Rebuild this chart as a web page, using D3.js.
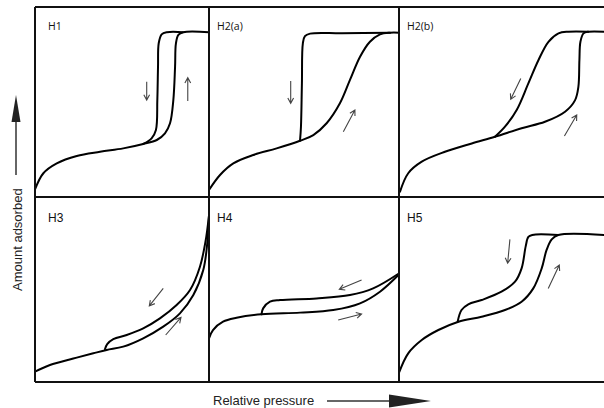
<!DOCTYPE html>
<html>
<head>
<meta charset="utf-8">
<script src="https://cdn.jsdelivr.net/npm/d3@7"></script>
<style>
  body { margin: 0; background: #fff; }
  svg { display: block; }
</style>
</head>
<body>
<div id="chart"></div>
<script>
// hysteresis loop types, relative pressure (0-1) vs amount adsorbed (0-1)
var labels = ['H1', 'H2(a)', 'H2(b)', 'H3', 'H4', 'H5'];

var h1Ads = [[0,0.04],[0.048,0.125],[0.125,0.177],[0.24,0.216],[0.374,0.238],[0.507,0.256],[0.622,0.279],[0.70,0.30],[0.747,0.335],[0.776,0.388],[0.795,0.51],[0.805,0.686],[0.81,0.809],[0.824,0.853],[0.852,0.867],[1,0.867]];
var h1Des = [[0.622,0.279],[0.67,0.309],[0.695,0.353],[0.703,0.51],[0.707,0.686],[0.711,0.809],[0.728,0.856],[0.757,0.867],[0.85,0.867]];

var h2aAds = [[0,0.037],[0.058,0.116],[0.128,0.177],[0.233,0.221],[0.356,0.256],[0.479,0.296],[0.549,0.326],[0.619,0.388],[0.689,0.493],[0.742,0.616],[0.795,0.738],[0.847,0.817],[0.9,0.856],[0.953,0.865],[1,0.865]];
var h2aDes = [[0.479,0.296],[0.484,0.37],[0.489,0.598],[0.494,0.809],[0.505,0.847],[0.532,0.86],[0.7,0.862],[0.953,0.865]];

var h2bAds = [[0.005,0.028],[0.045,0.125],[0.111,0.186],[0.224,0.238],[0.355,0.282],[0.468,0.317],[0.598,0.362],[0.712,0.396],[0.81,0.449],[0.859,0.51],[0.875,0.58],[0.88,0.72],[0.885,0.817],[0.9,0.861],[0.924,0.87],[1,0.87]];
var h2bDes = [[0.468,0.317],[0.517,0.37],[0.574,0.458],[0.631,0.598],[0.68,0.72],[0.729,0.817],[0.778,0.861],[0.826,0.87],[0.924,0.87]];

var h3Ads = [[0,0.056],[0.086,0.092],[0.22,0.127],[0.335,0.155],[0.412,0.173],[0.507,0.191],[0.622,0.236],[0.737,0.299],[0.833,0.371],[0.91,0.47],[0.967,0.605],[0.99,0.75],[1,0.9]];
var h3Des = [[0.402,0.177],[0.415,0.205],[0.45,0.232],[0.527,0.254],[0.622,0.29],[0.718,0.344],[0.814,0.416],[0.891,0.497],[0.948,0.623],[0.98,0.76],[1,0.9]];

var h4Ads = [[0,0.236],[0.021,0.281],[0.074,0.326],[0.145,0.347],[0.276,0.366],[0.479,0.375],[0.654,0.389],[0.795,0.425],[0.9,0.488],[0.997,0.578]];
var h4Des = [[0.276,0.366],[0.285,0.398],[0.321,0.434],[0.374,0.443],[0.566,0.452],[0.742,0.47],[0.864,0.506],[0.997,0.585]];

var h5Ads = [[0,0.05],[0.045,0.155],[0.111,0.227],[0.192,0.281],[0.29,0.326],[0.403,0.353],[0.517,0.389],[0.598,0.434],[0.655,0.506],[0.696,0.614],[0.72,0.714],[0.745,0.771],[0.777,0.795],[1,0.795]];
var h5Des = [[0.286,0.326],[0.305,0.389],[0.338,0.42],[0.403,0.443],[0.5,0.488],[0.566,0.542],[0.598,0.614],[0.618,0.733],[0.631,0.784],[0.65,0.795],[0.777,0.795]];

var curves = [[h1Ads, h1Des], [h2aAds, h2aDes], [h2bAds, h2bDes], [h3Ads, h3Des], [h4Ads, h4Des], [h5Ads, h5Des]];

// direction arrows [x1, y1, x2, y2]
var arrows = [
  [[0.642,0.606,0.642,0.51],[0.878,0.505,0.878,0.628]],
  [[0.43,0.61,0.43,0.493],[0.707,0.344,0.768,0.458]],
  [[0.594,0.624,0.545,0.514],[0.807,0.321,0.867,0.432]],
  [[0.737,0.506,0.657,0.411],[0.751,0.254,0.839,0.349]],
  [[0.803,0.551,0.686,0.501],[0.68,0.335,0.803,0.368]],
  [[0.541,0.771,0.53,0.642],[0.728,0.506,0.782,0.632]]
];

var width = 604, height = 408,
    cols = [[35, 209], [209, 399], [399, 604]],
    rows = [[7, 197], [197, 382]];

var svg = d3.select('#chart').append('svg')
    .attr('width', width)
    .attr('height', height);

var line = d3.line().curve(d3.curveCatmullRom.alpha(0.5));

labels.forEach(function(lab, i){
  var c = cols[i % 3], r = rows[Math.floor(i / 3)];
  var x = d3.scaleLinear().domain([0, 1]).range(c),
      y = d3.scaleLinear().domain([0, 1]).range([r[1], r[0]]);
  var g = svg.append('g');

  curves[i].forEach(function(pts){
    g.append('path')
      .attr('d', line.x(function(d){ return x(d[0]); }).y(function(d){ return y(d[1]); })(pts))
      .attr('fill', 'none')
      .attr('stroke', '#000')
      .attr('stroke-width', 2)
      .attr('stroke-linecap', 'round');
  });

  arrows[i].forEach(function(a){
    var x1 = x(a[0]), y1 = y(a[1]), x2 = x(a[2]), y2 = y(a[3]);
    var ang = Math.atan2(y2 - y1, x2 - x1), len = 6, sp = 0.5;
    var p = 'M' + x1 + ',' + y1 + 'L' + x2 + ',' + y2 +
      'M' + (x2 - len * Math.cos(ang - sp)) + ',' + (y2 - len * Math.sin(ang - sp)) +
      'L' + x2 + ',' + y2 +
      'L' + (x2 - len * Math.cos(ang + sp)) + ',' + (y2 - len * Math.sin(ang + sp));
    g.append('path')
      .attr('d', p)
      .attr('fill', 'none')
      .attr('stroke', '#444')
      .attr('stroke-width', 1.1);
  });

  g.append('text')
    .attr('x', c[0] + (i % 3 === 0 ? 13 : 8))
    .attr('y', r[0] + (i < 3 ? 23 : 25))
    .attr('font-family', i < 3 ? 'Open Sans, sans-serif' : 'Liberation Sans, Arial, sans-serif')
    .attr('font-size', i < 3 ? 10.5 : 12)
    .attr('fill', '#111')
    .text(lab);
});

// frame
var frame = svg.append('g')
    .attr('stroke', '#111')
    .attr('stroke-width', 2);
rows.concat([[382, 382]]).forEach(function(r){
  frame.append('line').attr('x1', 35).attr('x2', width).attr('y1', r[0]).attr('y2', r[0]);
});
cols.forEach(function(c){
  frame.append('line').attr('x1', c[0]).attr('x2', c[0]).attr('y1', 7).attr('y2', 382);
});

// axis captions
svg.append('text')
  .attr('transform', 'translate(22,291) rotate(-90)')
  .attr('font-family', 'Liberation Sans, Arial, sans-serif')
  .attr('font-size', 13)
  .attr('fill', '#222')
  .text('Amount adsorbed');

svg.append('line')
  .attr('x1', 16).attr('x2', 16).attr('y1', 175).attr('y2', 115)
  .attr('stroke', '#333').attr('stroke-width', 1.5);
svg.append('path')
  .attr('d', 'M16,95L20.5,122L11.5,122Z')
  .attr('fill', '#222');

svg.append('text')
  .attr('x', 213).attr('y', 405)
  .attr('font-family', 'Liberation Sans, Arial, sans-serif')
  .attr('font-size', 13)
  .attr('fill', '#222')
  .text('Relative pressure');

svg.append('line')
  .attr('x1', 327).attr('x2', 392).attr('y1', 401).attr('y2', 401)
  .attr('stroke', '#333').attr('stroke-width', 1.5);
svg.append('path')
  .attr('d', 'M431,401L389,394.5L389,407.5Z')
  .attr('fill', '#222');
</script>
</body>
</html>
